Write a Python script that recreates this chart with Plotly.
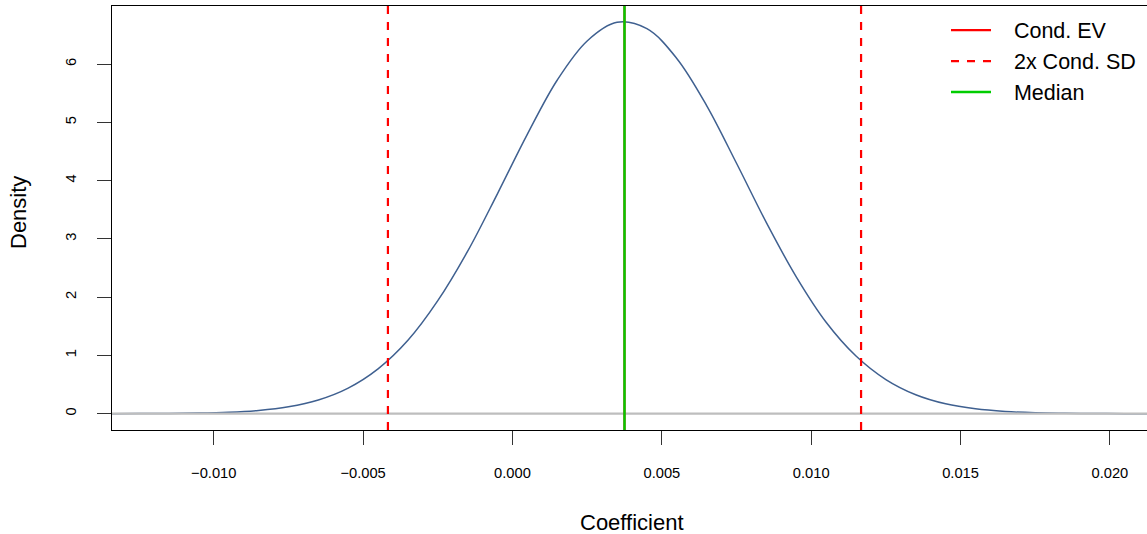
import plotly.graph_objects as go

# ---- data ----
coef_x = [-0.0135, -0.0125, -0.0115, -0.0105, -0.0095, -0.0085, -0.0075, -0.0065, -0.0055, -0.0045,
          -0.0035, -0.0025, -0.0015, -0.0005, 0.0005, 0.0015, 0.0025, 0.0035, 0.0045, 0.0055,
          0.0065, 0.0075, 0.0085, 0.0095, 0.0105, 0.0115, 0.0125, 0.0135, 0.0145, 0.0155,
          0.0165, 0.0175, 0.0185, 0.0195, 0.0205, 0.0215]
density_y = [0.0005, 0.0015, 0.004, 0.010, 0.025, 0.056, 0.119, 0.236, 0.44, 0.77,
             1.26, 1.94, 2.79, 3.78, 4.80, 5.73, 6.40, 6.72, 6.61, 6.10,
             5.29, 4.30, 3.28, 2.35, 1.57, 0.99, 0.586, 0.325, 0.169, 0.083,
             0.038, 0.016, 0.007, 0.002, 0.001, 0.0004]
cond_ev = 0.00375
cond_sd = 0.00396
median_val = 0.00375

x_ticks = [-0.010, -0.005, 0.000, 0.005, 0.010, 0.015, 0.020]
x_tick_text = ["\u22120.010", "\u22120.005", "0.000", "0.005", "0.010", "0.015", "0.020"]
y_ticks = [0, 1, 2, 3, 4, 5, 6]

x_range = [-0.013407, 0.021242]
y_range = [-0.28, 7.0]

FONT = "Liberation Sans, Arial, Helvetica, sans-serif"
PAD = "\u00a0\u00a0\u00a0"

fig = go.Figure()

# density curve
fig.add_trace(go.Scatter(x=coef_x, y=density_y, mode="lines",
                         line=dict(color="#3F6090", width=1.5, shape="spline", smoothing=1.0),
                         showlegend=False, hoverinfo="skip"))
# zero line
fig.add_trace(go.Scatter(x=x_range, y=[0, 0], mode="lines", line=dict(color="#BEBEBE", width=2.2),
                         showlegend=False, hoverinfo="skip"))
# Cond. EV
fig.add_trace(go.Scatter(x=[cond_ev, cond_ev], y=y_range, mode="lines", name=PAD + "Cond. EV",
                         line=dict(color="#FF0000", width=2.2)))
# 2x Cond. SD
lo = cond_ev - 2 * cond_sd
hi = cond_ev + 2 * cond_sd
fig.add_trace(go.Scatter(x=[lo, lo, None, hi, hi], y=[y_range[0], y_range[1], None, y_range[0], y_range[1]],
                         mode="lines", name=PAD + "2x Cond. SD",
                         line=dict(color="#FF0000", width=2.2, dash="8px,8px")))
# Median
fig.add_trace(go.Scatter(x=[median_val, median_val], y=y_range, mode="lines", name=PAD + "Median",
                         line=dict(color="#00CD00", width=2.4)))

fig.update_layout(
    width=1147, height=534,
    margin=dict(l=112, r=0, t=6, b=104),
    paper_bgcolor="white", plot_bgcolor="white",
    font=dict(family=FONT, color="black"),
    legend=dict(x=0.8058, y=0.9915, xanchor="left", yanchor="top", font=dict(size=21.5, family=FONT),
                bgcolor="rgba(0,0,0,0)", tracegroupgap=0, itemwidth=40),
    xaxis=dict(range=x_range, tickvals=x_ticks, ticktext=x_tick_text, ticks="outside", ticklen=14,
               tickwidth=1.3, tickcolor="#333333", showline=True, linecolor="black", linewidth=1.3,
               mirror=True, showgrid=False, zeroline=False, tickfont=dict(size=14.7),
               ticklabelstandoff=15),
    yaxis=dict(range=y_range, tickvals=y_ticks, ticks="outside", ticklen=14, tickwidth=1.3,
               tickcolor="#333333", showline=True, linecolor="black", linewidth=1.3, mirror=False,
               showgrid=False, zeroline=False, tickangle=-90, tickfont=dict(size=14.7),
               ticklabelstandoff=15),
    annotations=[
        dict(text="Coefficient", xref="paper", yref="paper", x=(632 - 112) / 1035, y=-(522 - 430) / 424,
             xanchor="center", yanchor="middle", showarrow=False, font=dict(size=22)),
        dict(text="Density", xref="paper", yref="paper", x=(18 - 112) / 1035, y=(430 - 213) / 424,
             xanchor="center", yanchor="middle", showarrow=False, textangle=-90, font=dict(size=22)),
    ],
)

fig.write_html("out.html", config={"displayModeBar": False},
               post_script="document.body.style.margin='0px';document.body.style.overflow='hidden';")
